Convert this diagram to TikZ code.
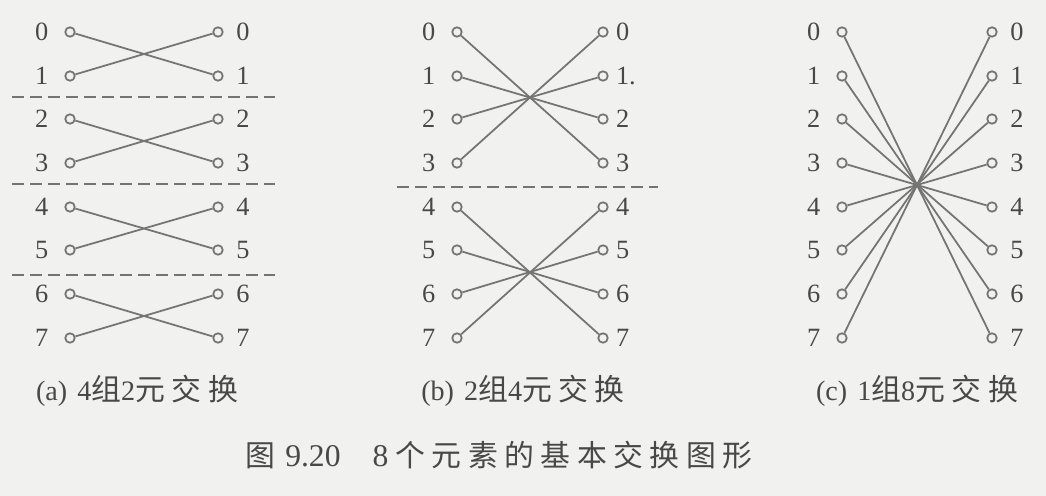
\documentclass[tikz,border=0pt]{standalone}
\usepackage{fontspec}
\setmainfont{Liberation Serif}
\newfontfamily\cjk{Noto Sans CJK SC}
\usepackage{tikz}
\usetikzlibrary{positioning}
\definecolor{ink}{HTML}{484848}
\definecolor{wirecol}{HTML}{747474}
\definecolor{paper}{HTML}{F1F1EF}
\tikzset{
  port/.style={circle, draw=wirecol, line width=1pt, inner sep=0pt, minimum size=0.19cm},
  num/.style={inner sep=0pt, text=ink, font=\fontsize{15}{18}\selectfont},
  wire/.style={draw=wirecol, line width=1pt},
  cut/.style={draw=wirecol, line width=0.9pt, dash pattern=on 0.24cm off 0.12cm},
  caption/.style={inner sep=0pt, text=ink}
}
\newcommand{\rgap}{7pt}
\newcommand{\zhgap}{0.13cm}
\def\zhsfirst#1{#1\zhsrest}
\def\zhsrest#1{\ifx#1\relax\else\hspace{\zhgap}#1\expandafter\zhsrest\fi}
\newcommand{\zh}[1]{{\cjk\fontsize{17}{20}\selectfont\zhsfirst#1\relax}}
\newcommand{\portpair}[5]{\node[port] (#1l) at (#3,#5) {};
   \node[num, left=9pt of #1l] (#1lt) {#2};
   \node[port] (#1r) at (#4,#5) {};
   \node[num, right=\rgap of #1r] (#1rt) {#2};}

\begin{document}
\begin{tikzpicture}[x=0.02cm, y=-0.02cm]

        \path[use as bounding box, fill=paper] (0,0) rectangle (1046,496);

        \portpair{a0}{0}{70}{218}{32}
        \portpair{a1}{1}{70}{218}{76}
        \portpair{a2}{2}{70}{218}{119}
        \portpair{a3}{3}{70}{218}{163}
        \portpair{a4}{4}{70}{218}{207}
        \portpair{a5}{5}{70}{218}{250}
        \portpair{a6}{6}{70}{218}{294}
        \portpair{a7}{7}{70}{218}{338}

        \draw[wire] (a0l) -- (a1r);
        \draw[wire] (a1l) -- (a0r);
        \draw[wire] (a2l) -- (a3r);
        \draw[wire] (a3l) -- (a2r);
        \draw[wire] (a4l) -- (a5r);
        \draw[wire] (a5l) -- (a4r);
        \draw[wire] (a6l) -- (a7r);
        \draw[wire] (a7l) -- (a6r);

        \draw[cut] (12,97) -- (275,97);
        \draw[cut] (12,184) -- (275,184);
        \draw[cut] (12,275) -- (275,275);

        \begin{scope}
            \renewcommand{\rgap}{4pt}
            \portpair{b0}{0}{457}{603}{32}
            \node[port] (b1l) at (457,76) {};
            \node[num, left=9pt of b1l] (b1lt) {1};
            \node[port] (b1r) at (603,76) {};
            \node[num, right=\rgap of b1r, anchor=west] (b1rt) {1.};
            \portpair{b2}{2}{457}{603}{119}
            \portpair{b3}{3}{457}{603}{163}
            \portpair{b4}{4}{457}{603}{207}
            \portpair{b5}{5}{457}{603}{250}
            \portpair{b6}{6}{457}{603}{294}
            \portpair{b7}{7}{457}{603}{338}
        \end{scope}

        \draw[wire] (b0l) -- (b3r);
        \draw[wire] (b1l) -- (b2r);
        \draw[wire] (b2l) -- (b1r);
        \draw[wire] (b3l) -- (b0r);
        \draw[wire] (b4l) -- (b7r);
        \draw[wire] (b5l) -- (b6r);
        \draw[wire] (b6l) -- (b5r);
        \draw[wire] (b7l) -- (b4r);

        \draw[cut] (397,187) -- (658,187);

        \portpair{c0}{0}{842}{992}{32}
        \portpair{c1}{1}{842}{992}{76}
        \portpair{c2}{2}{842}{992}{119}
        \portpair{c3}{3}{842}{992}{163}
        \portpair{c4}{4}{842}{992}{207}
        \portpair{c5}{5}{842}{992}{250}
        \portpair{c6}{6}{842}{992}{294}
        \portpair{c7}{7}{842}{992}{338}

        \draw[wire] (c0l) -- (c7r);
        \draw[wire] (c1l) -- (c6r);
        \draw[wire] (c2l) -- (c5r);
        \draw[wire] (c3l) -- (c4r);
        \draw[wire] (c4l) -- (c3r);
        \draw[wire] (c5l) -- (c2r);
        \draw[wire] (c6l) -- (c1r);
        \draw[wire] (c7l) -- (c0r);

        \node[caption] (capa) at (137,391) {\fontsize{16}{19}\selectfont (a)\hspace{0.2cm}4\zh{组}2\zh{元交换}};
        \node[caption] (capb) at (523,391) {\fontsize{16}{19}\selectfont (b)\hspace{0.2cm}2\zh{组}4\zh{元交换}};
        \node[caption] (capc) at (917,391) {\fontsize{16}{19}\selectfont (c)\hspace{0.2cm}1\zh{组}8\zh{元交换}};

        \node[caption] (title) at (499,455) {\zh{图}\hspace{0.2cm}\fontsize{18}{21}\selectfont 9.20\hspace{0.64cm}8\hspace{0.14cm}\zh{个元素的基本交换图形}};

\end{tikzpicture}
\end{document}
